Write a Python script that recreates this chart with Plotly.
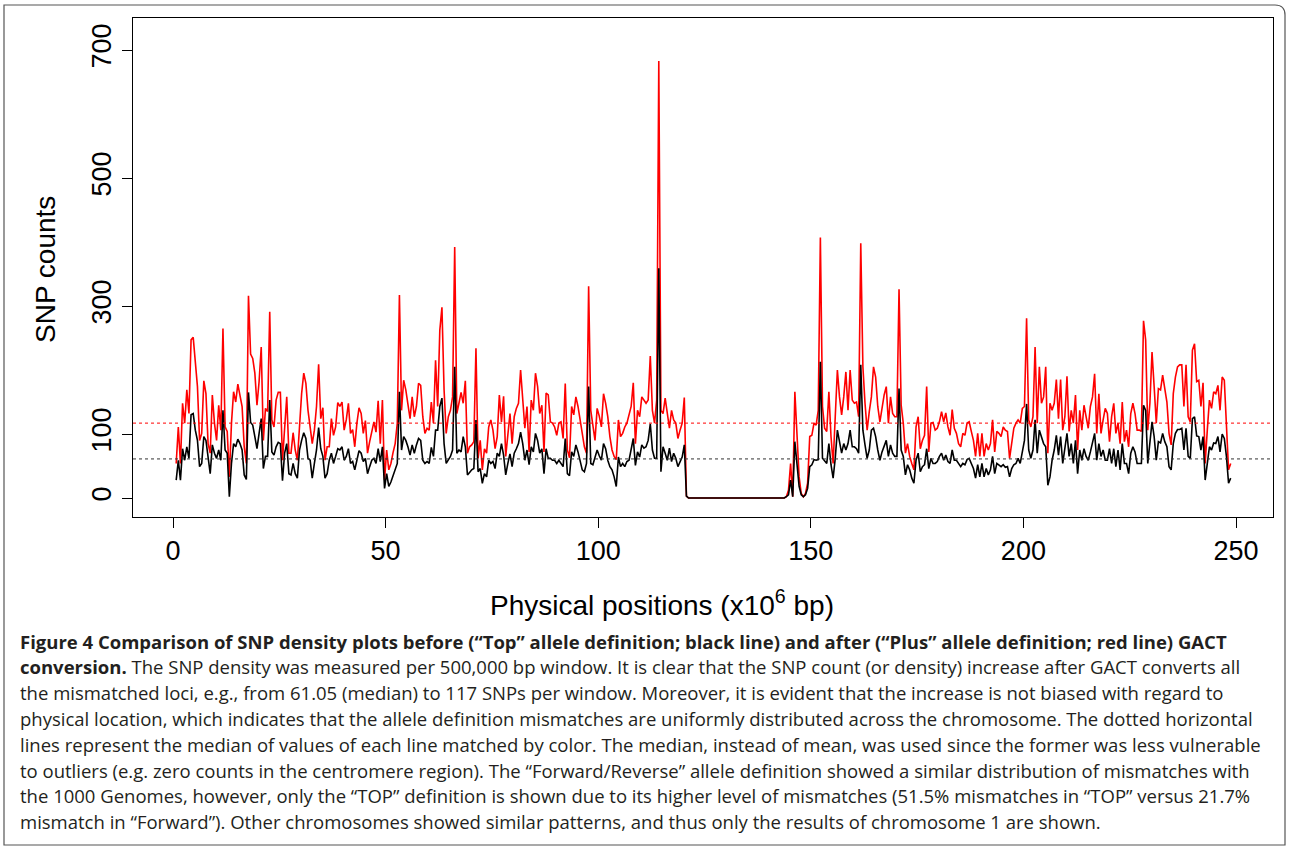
import plotly.graph_objects as go

# ---------------- data (SNP counts per 500,000 bp window, chromosome 1) -------------
window_start_mb = 0.75
window_step_mb = 0.5

plus_counts = [  # "Plus" allele definition (red)
    54,111,54,148,117,169,132,247,251,205,174,90,101,183,163,85,70,161,117,90,145,106,265,111,104,33,117,166,150,178,163,143,80,54,316,225,218,195,145,182,236,
    90,140,135,291,122,111,153,165,165,59,117,158,70,70,102,75,59,117,163,195,179,137,106,85,106,143,209,124,141,59,80,80,124,98,111,149,143,150,106,122,148,
    101,107,80,117,141,132,101,121,70,88,103,119,103,152,85,153,28,75,44,54,71,85,117,317,137,184,169,148,124,158,127,143,179,176,127,101,109,106,150,117,215,
    143,262,298,169,101,127,137,158,392,132,148,165,148,183,70,80,83,88,234,62,90,44,77,70,111,122,106,77,96,161,119,159,65,96,132,85,127,140,148,200,148,
    109,143,72,153,137,195,174,132,145,72,164,161,119,117,111,98,117,119,93,179,75,63,143,130,158,143,122,101,80,70,331,137,111,90,140,128,111,163,148,127,96,
    75,65,60,122,96,101,111,117,130,143,180,85,137,127,158,153,148,153,222,137,117,153,683,137,132,156,132,109,137,122,117,93,106,117,157,3,0,0,0,0,0,
    0,0,0,0,0,0,0,0,0,0,0,0,0,0,0,0,0,0,0,0,0,0,0,0,0,0,0,0,0,0,0,0,0,0,0,0,0,0,0,0,0,
    2,12,54,2,166,106,33,7,2,7,23,96,98,117,114,137,407,143,109,104,166,96,54,127,200,158,130,158,197,137,200,153,148,150,127,398,205,148,106,135,158,
    205,189,143,119,140,161,174,117,158,132,127,127,326,145,117,70,85,65,54,44,111,127,77,90,98,174,72,117,118,106,109,119,135,119,133,111,98,138,109,101,85,
    80,101,98,117,119,104,90,65,101,65,101,65,85,75,85,122,72,104,101,96,111,106,104,62,85,109,117,122,117,140,143,281,122,111,127,236,117,205,148,158,205,
    70,
    148,137,148,185,124,185,106,127,190,104,137,117,161,75,137,106,145,127,109,143,158,194,101,163,101,122,140,132,88,127,148,101,117,85,150,88,106,80,132,148,132,
    106,106,104,277,247,106,148,228,174,117,171,169,192,169,150,101,83,163,189,205,208,208,143,208,127,119,231,241,182,184,143,180,54,106,153,140,166,163,176,137,189,184,122,44,54,
]

top_counts = [  # "Top" allele definition (black)
    28,59,28,77,59,80,62,130,132,106,90,49,54,96,90,59,38,83,70,62,75,59,137,75,70,2,54,85,80,92,85,75,36,29,165,118,114,96,77,101,124,
    46,65,65,153,72,67,80,87,85,27,70,85,38,36,54,38,31,75,90,102,93,62,59,31,54,75,110,77,65,31,38,59,70,54,65,77,75,80,59,65,77,
    54,57,44,59,74,70,57,62,38,49,59,62,54,77,57,80,15,38,18,25,36,44,54,166,75,96,90,80,67,83,70,83,93,90,59,54,57,54,79,65,106,
    106,143,156,85,54,59,65,75,205,70,75,72,96,80,36,40,44,46,122,41,46,23,38,33,59,54,57,46,70,65,85,67,36,54,69,49,70,77,85,103,85,
    59,75,52,80,72,101,90,70,77,38,77,62,62,59,59,54,59,54,49,93,38,35,72,65,83,72,59,44,41,54,174,54,52,65,75,66,59,85,77,59,49,
    44,33,18,64,49,54,49,57,59,75,93,51,72,64,83,78,80,90,116,75,62,62,359,41,80,70,59,78,57,70,62,49,57,64,83,3,0,0,0,0,0,
    0,0,0,0,0,0,0,0,0,0,0,0,0,0,0,0,0,0,0,0,0,0,0,0,0,0,0,0,0,0,0,0,0,0,0,0,0,0,0,0,0,
    2,5,28,2,88,54,18,5,2,5,15,49,52,60,59,60,213,62,57,54,85,52,31,62,106,85,70,85,75,85,106,80,80,77,70,208,106,83,62,75,106,
    109,96,75,59,72,83,90,65,83,70,65,65,171,75,65,36,52,44,31,23,59,70,41,49,52,77,46,62,54,54,57,65,70,59,67,57,54,75,59,59,54,
    49,54,52,60,62,54,46,31,52,33,54,33,46,36,44,65,38,54,52,49,52,48,49,33,46,52,54,62,54,72,90,147,75,62,75,122,70,106,96,85,80,
    20,
    33,59,75,98,67,96,54,80,101,65,85,54,90,38,75,59,77,65,59,72,85,101,59,85,65,75,59,59,77,54,77,49,75,44,85,54,54,38,70,80,72,
    54,54,54,145,137,54,85,119,96,59,88,86,101,88,80,49,44,85,101,107,107,109,75,109,65,62,124,127,97,96,75,96,28,54,80,75,86,85,96,72,100,93,65,23,31,
]

median_top = 61.05
median_plus = 117
x_ticks = [0, 50, 100, 150, 200, 250]
y_ticks = [0, 100, 300, 500, 700]

caption_lines = [
    "<b>Figure 4 Comparison of SNP density plots before (“Top” allele definition; black line) and after (“Plus” allele definition; red line) GACT</b>",
    "<b>conversion.</b> The SNP density was measured per 500,000 bp window. It is clear that the SNP count (or density) increase after GACT converts all",
    "the mismatched loci, e.g., from 61.05 (median) to 117 SNPs per window. Moreover, it is evident that the increase is not biased with regard to",
    "physical location, which indicates that the allele definition mismatches are uniformly distributed across the chromosome. The dotted horizontal",
    "lines represent the median of values of each line matched by color. The median, instead of mean, was used since the former was less vulnerable",
    "to outliers (e.g. zero counts in the centromere region). The “Forward/Reverse” allele definition showed a similar distribution of mismatches with",
    "the 1000 Genomes, however, only the “TOP” definition is shown due to its higher level of mismatches (51.5% mismatches in “TOP” versus 21.7%",
    "mismatch in “Forward”). Other chromosomes showed similar patterns, and thus only the results of chromosome 1 are shown.",
]

# ---------------- layout geometry (pixels) ----------------
W, H = 1290, 850
PL, PR, PT, PB = 133, 1273, 18, 517  # plot box


def px_x(p):
    return (p - PL) / (PR - PL)


def px_y(p):
    return (PB - p) / (PB - PT)


x_plus = [window_start_mb + i * window_step_mb for i in range(len(plus_counts))]
x_top = [window_start_mb + i * window_step_mb for i in range(len(top_counts))]

fig = go.Figure()
fig.add_trace(go.Scatter(x=x_plus, y=plus_counts, mode="lines",
                         line=dict(color="#ff0000", width=1.6), showlegend=False))
fig.add_trace(go.Scatter(x=x_top, y=top_counts, mode="lines",
                         line=dict(color="#000000", width=1.6), showlegend=False))

# outer frame with a rounded top-right corner
fx0, fx1, fy0, fy1, rad = px_x(4), px_x(1285), px_y(845), px_y(5), 10
rx, ry = rad / (PR - PL), rad / (PB - PT)
frame_path = (f"M {fx0},{fy0} L {fx0},{fy1} L {fx1 - rx},{fy1} "
              f"Q {fx1},{fy1} {fx1},{fy1 - ry} L {fx1},{fy0} Z")

shapes = [
    dict(type="line", xref="paper", yref="y", x0=0, x1=1, y0=median_plus, y1=median_plus,
         line=dict(color="#ff0000", width=1, dash="dot")),
    dict(type="line", xref="paper", yref="y", x0=0, x1=1, y0=median_top, y1=median_top,
         line=dict(color="#333333", width=1, dash="dot")),
    dict(type="path", xref="paper", yref="paper", path=frame_path,
         line=dict(color="#555555", width=1.2), layer="below"),
]

annotations = [
    dict(text="SNP counts", xref="paper", yref="paper", x=px_x(45), y=px_y(270),
         showarrow=False, textangle=-90, font=dict(family="Liberation Sans", size=28, color="black"),
         xanchor="center", yanchor="middle"),
    dict(text="Physical positions (x10<sup>6</sup> bp)", xref="paper", yref="paper",
         x=px_x(662), y=px_y(603), showarrow=False,
         font=dict(family="Liberation Sans", size=28, color="black"),
         xanchor="center", yanchor="middle"),
]
for i, line in enumerate(caption_lines):
    annotations.append(dict(text=line, xref="paper", yref="paper", x=px_x(18), y=px_y(641 + i * 25.8),
                            showarrow=False, xanchor="left", yanchor="middle", align="left",
                            font=dict(family="Open Sans", size=18.5, color="#231f20")))

fig.update_layout(
    width=W, height=H,
    margin=dict(l=PL, r=W - PR, t=PT, b=H - PB, pad=0),
    paper_bgcolor="white", plot_bgcolor="white",
    shapes=shapes, annotations=annotations,
    xaxis=dict(range=[(PL - 173) / 4.252, (PR - 173) / 4.252], tickvals=x_ticks,
               ticks="outside", ticklen=10, tickwidth=1, tickcolor="black",
               showline=True, linecolor="black", linewidth=1, mirror=True,
               showgrid=False, zeroline=False,
               tickfont=dict(family="Liberation Sans", size=27, color="black")),
    yaxis=dict(range=[(498 - PB) / 0.64, (498 - PT) / 0.64], tickvals=y_ticks,
               ticks="outside", ticklen=10, tickwidth=1, tickcolor="black",
               showline=True, linecolor="black", linewidth=1, mirror=True,
               showgrid=False, zeroline=False, tickangle=-90,
               tickfont=dict(family="Liberation Sans", size=27, color="black")),
)

fig.write_html(
    "out.html",
    config={"displayModeBar": False},
    post_script="document.body.style.margin='0';document.body.style.padding='0';"
                "document.documentElement.style.overflow='hidden';",
)
